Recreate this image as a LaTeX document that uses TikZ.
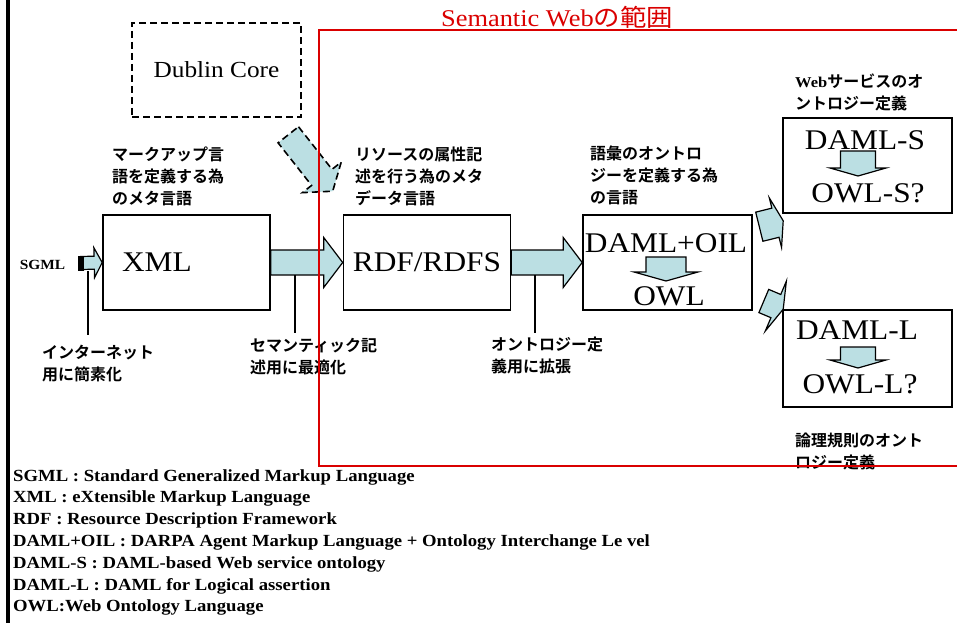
\documentclass[tikz,border=0pt]{standalone}
\usepackage{fontspec}
\setmainfont{Liberation Serif}[FakeStretch=1.1]
\newfontfamily\jpb{Noto Sans CJK JP Bold}
\newfontfamily\jpr{Noto Sans CJK JP}[FakeStretch=1.1]
\usepackage{xcolor}
\usepackage{tikz}
\usetikzlibrary{calc}

\definecolor{arrowblue}{RGB}{187,223,227}
\definecolor{framered}{RGB}{218,0,0}

\newcommand{\boxfont}{\fontsize{28.5}{32}\selectfont}
\newcommand{\notefont}{\jpb\fontsize{16}{22}\selectfont}
\newcommand{\legendfont}{\bfseries\fontsize{17}{21.8}\selectfont}

% block arrow: [style]{from}{to}{body half width}{head half width}{head length}
\newcommand{\blockarrow}[6][]{%
  \coordinate (ba-h) at ($(#3)!#6!(#2)$);
  \draw[blockarrow,#1] ($(#2)!#4!90:(#3)$) -- ($(ba-h)!#4!-90:(#2)$) -- ($(ba-h)!#5!-90:(#2)$)
    -- (#3) -- ($(ba-h)!#5!90:(#2)$) -- ($(ba-h)!#4!90:(#2)$) -- ($(#2)!#4!-90:(#3)$) -- cycle;
}

\begin{document}
\begin{tikzpicture}[
  x=1pt, y=-1pt,
  box/.style={draw, line width=1.6pt, minimum width=167pt, minimum height=95pt,
              inner sep=0pt, font=\boxfont},
  dashbox/.style={box, dash pattern=on 7pt off 4pt},
  boxtext/.style={inner sep=0pt, font=\boxfont},
  note/.style={inner sep=0pt, anchor=north west, align=left, font=\notefont},
  blockarrow/.style={fill=arrowblue, draw=black, line width=1.2pt, line join=miter},
  tick/.style={line width=1.6pt},
]
  \useasboundingbox (0,0) rectangle (957,623);
  \draw[line width=4pt] (8,0) -- (8,623);

  \node[dashbox, minimum width=169pt, minimum height=94pt, font=\fontsize{23}{26}\selectfont]
    (dublin) at (216.5,70) {Dublin Core};
  \node[box, text width=129pt, align=left] (xml) at (186.5,262.5) {XML};
  \node[box] (rdf) at (427,262.5) {RDF/RDFS};
  \node[box, minimum width=169pt] (daml) at (667.5,262.5) {};
  \node[boxtext] (damloil) at (666,243) {DAML+OIL};
  \node[boxtext] (owl) at (669,296) {OWL};
  \node[box, minimum width=169pt] (damls) at (867.5,165.5) {};
  \node[boxtext] (damls-t) at (865,140) {DAML-S};
  \node[boxtext] (owls) at (868,193) {OWL-S?};
  \node[box, minimum width=169pt, minimum height=97pt] (damll) at (867.5,358.5) {};
  \node[boxtext] (damll-t) at (857,330) {DAML-L};
  \node[boxtext] (owll) at (860,384) {OWL-L?};

  \node[inner sep=0pt, font=\bfseries\fontsize{14}{16}\selectfont] (sgml) at (42.5,265) {SGML};

  \coordinate (sgml-a) at (81,263);
  \blockarrow{sgml-a}{xml.west}{6.5pt}{15pt}{8pt}
  \fill (sgml-a) ++(-3,-7.5) rectangle ++(6,15);
  \blockarrow{xml.east}{rdf.west}{12.5pt}{25pt}{19pt}
  \blockarrow{rdf.east}{daml.west}{12.5pt}{25pt}{19pt}

  \coordinate (dc-tail) at ($(dublin.south east)+(-13.5,17)$);
  \coordinate (dc-tip) at ($(rdf.north west)+(-10,-23)$);
  \blockarrow[dash pattern=on 7pt off 4pt, line width=1.6pt]{dc-tail}{dc-tip}{13pt}{24.7pt}{17.6pt}

  \coordinate (ds-tail) at ($(daml.north east)+(6.5,12.5)$);
  \coordinate (ds-tip) at ($(damls.south west)+(1,7)$);
  \blockarrow{ds-tail}{ds-tip}{15pt}{25.5pt}{8pt}
  \coordinate (dl-tail) at ($(daml.east)+(11,38.5)$);
  \coordinate (dl-tip) at ($(damll.north west)+(1,0)$);
  \blockarrow{dl-tail}{dl-tip}{12.6pt}{27pt}{8pt}

  \coordinate (d1a) at (666,257);
  \coordinate (d1b) at (666,281);
  \blockarrow{d1a}{d1b}{20pt}{32pt}{9pt}
  \coordinate (d2a) at (858,151);
  \coordinate (d2b) at (858,176);
  \blockarrow{d2a}{d2b}{17.5pt}{28pt}{8pt}
  \coordinate (d3a) at (858,347);
  \coordinate (d3b) at (858,368);
  \blockarrow{d3a}{d3b}{17.5pt}{28pt}{8pt}

  \node[note] (lbl-markup) at (112,147) {マークアップ言\\語を定義する為\\のメタ言語};
  \node[note] (lbl-resource) at (355,147) {リソースの属性記\\述を行う為のメタ\\データ言語};
  \node[note] (lbl-vocab) at (590,146) {語彙のオントロ\\ジーを定義する為\\の言語};
  \node[note] (lbl-ws) at (795,74) {{\rmfamily\bfseries\fontsize{15}{22}\selectfont Web}サービスのオ\\ントロジー定義};
  \node[note] (lbl-logic) at (795,433) {論理規則のオント\\ロジー定義};
  \node[note] (lbl-inet) at (42,345) {インターネット\\用に簡素化};
  \node[note] (lbl-sem) at (250,338) {セマンティック記\\述用に最適化};
  \node[note] (lbl-onto) at (491,337) {オントロジー定\\義用に拡張};

  \coordinate (tk-sgml) at (88,271);
  \draw[tick, shorten >=10pt] (tk-sgml) -- (tk-sgml |- lbl-inet.north);
  \coordinate (tk-xml) at (295,275);
  \draw[tick, shorten >=5pt] (tk-xml) -- (tk-xml |- lbl-sem.north);
  \coordinate (tk-rdf) at (535,275);
  \draw[tick, shorten >=4pt] (tk-rdf) -- (tk-rdf |- lbl-onto.north);

  \node[note, font=\legendfont] (legend) at (13,469) {SGML : Standard Generalized Markup Language\\
    XML : eXtensible Markup Language\\
    RDF : Resource Description Framework\\
    DAML+OIL : DARPA Agent Markup Language + Ontology Interchange Le vel\\
    DAML-S : DAML-based Web service ontology\\
    DAML-L : DAML for Logical assertion\\
    OWL:Web Ontology Language};

  \node[inner sep=0pt, anchor=base, text=framered, font=\fontsize{24}{28}\selectfont]
    (title) at (557,27) {Semantic Web{\jpr の範囲}};
  \draw[framered, line width=2pt] (319,466) rectangle (970,30);
\end{tikzpicture}
\end{document}
